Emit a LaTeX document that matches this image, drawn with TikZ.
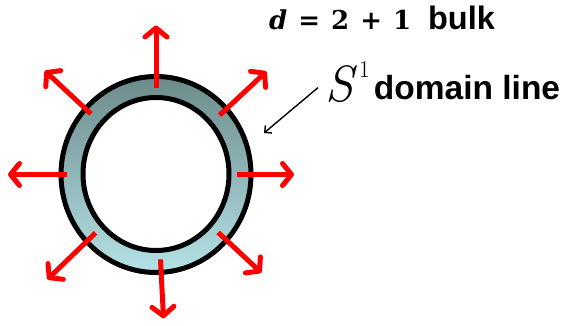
\documentclass[tikz,border=0pt]{standalone}
\usepackage{fontspec}
\setsansfont{Liberation Sans}
\newfontfamily\eqfont{DejaVu Serif}
\usetikzlibrary{arrows.meta,calc}

\definecolor{ringtop}{RGB}{108,138,138}
\definecolor{ringbot}{RGB}{180,226,230}

\begin{document}
\begin{tikzpicture}[
    x=1pt, y=1pt,
    ray/.style={
        draw=red,
        line width=5pt,
        -{Straight Barb[length=9pt,width=22pt,round]}
    },
    pointer/.style={
        draw=black,
        line width=1.4pt,
        -{Straight Barb[length=5pt,width=10pt]}
    },
    rim/.style={
        draw=black,
        line width=5pt
    },
    lbl/.style={
        font=\sffamily\bfseries\fontsize{32.5}{38}\selectfont,
        inner sep=0pt,
        anchor=base west
    }
]
\useasboundingbox (0,0) rectangle (565,325);

% Ring
\coordinate (c) at (156,150.5);
\shade[top color=ringtop, bottom color=ringbot] (c) ellipse [x radius=95, y radius=98];
\draw[rim] (c) ellipse [x radius=95, y radius=98];
\draw[rim, fill=white] ($(c)+(0,0.5)$) ellipse [x radius=73, y radius=76.5];
\coordinate (ringpt) at ($(c)+(108,41.5)$);

% Arrows
\foreach \ang/\rin/\rout in {90/87/149, 43/87/151, 0/81/138, -43/85/144, -87/85/144, -136/84/151, 180/89/148, 137/89/152}
    \draw[ray] ($(c)+(\ang:\rin)$) -- ($(c)+(\ang:\rout)$);

% Labels
\node[lbl] (bulk) at (269,296) {{\eqfont\fontsize{26}{30}\selectfont\textit{d}\hspace{11pt}=\hspace{11pt}2\hspace{11pt}+\hspace{11pt}1}\hspace{17pt}bulk};
\node[lbl] (domain) at (325,226) {\raisebox{-2pt}{\rmfamily\mdseries\itshape\fontsize{51}{60}\selectfont S\/}\hspace{2pt}\raisebox{22pt}{\rmfamily\mdseries\fontsize{24}{28}\selectfont 1}\hspace{4pt}{\fontsize{33.5}{38}\selectfont domain line}};
\draw[pointer] ([xshift=-7pt,yshift=-6pt]domain.west) -- (ringpt);

\end{tikzpicture}
\end{document}
